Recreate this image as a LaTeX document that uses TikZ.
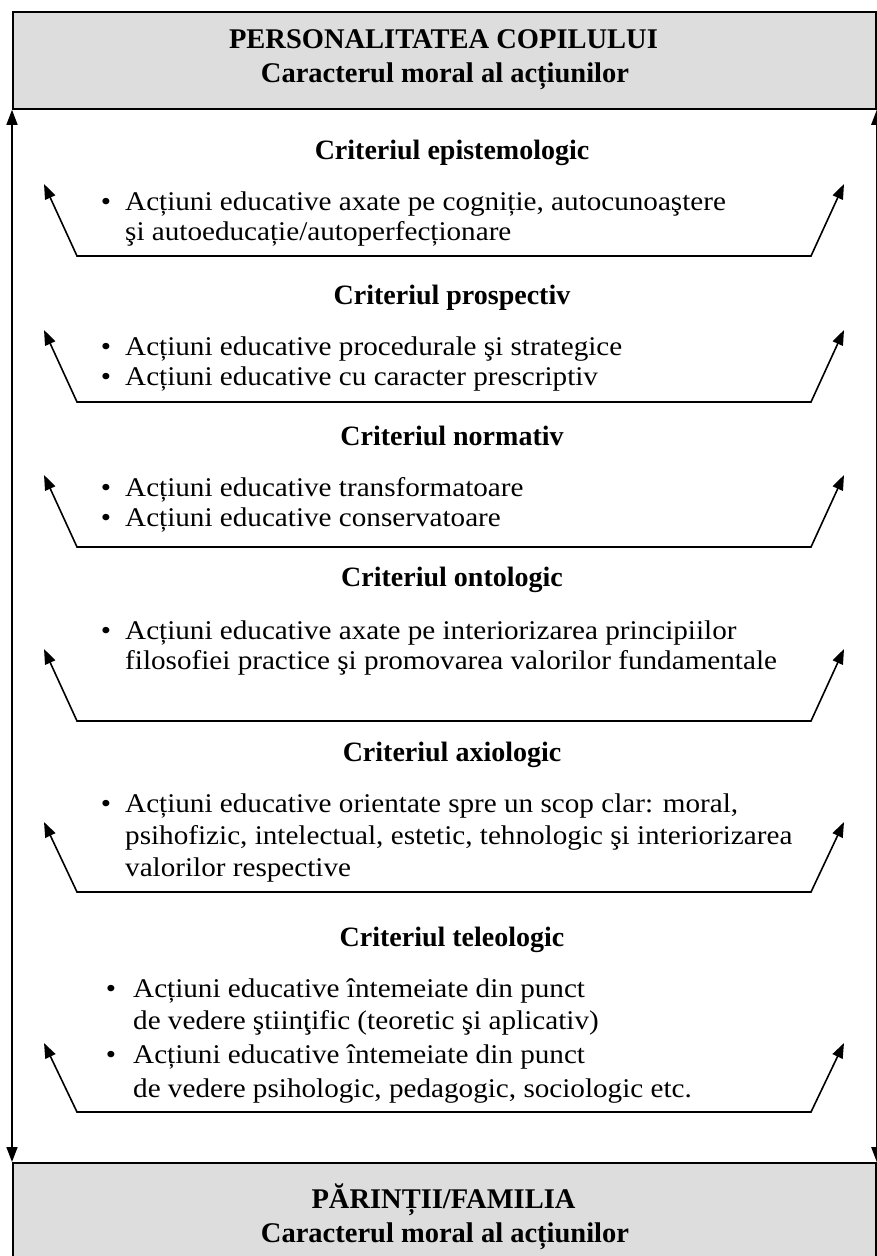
\documentclass[tikz,border=0pt]{standalone}
\usepackage{fontspec}
\setmainfont{Liberation Serif}
\newfontfamily\bodyfont[FakeStretch=1.08]{Liberation Serif}
\usetikzlibrary{arrows.meta}
\definecolor{boxgray}{RGB}{221,221,221}
\begin{document}
\begin{tikzpicture}[x=1pt,y=-1pt,
  frame/.style={draw=black, line width=1.8pt, fill=boxgray, inner sep=0pt, anchor=north west},
  link/.style={line width=1.6pt, {Triangle[length=15pt,width=11pt]}-{Triangle[length=15pt,width=11pt]}},
  title/.style={font=\fontsize{28.5}{34}\selectfont\bfseries, anchor=base, inner sep=0pt},
  head/.style={font=\fontsize{28}{34}\selectfont\bfseries, anchor=base, inner sep=0pt},
  item/.style={font=\bodyfont\fontsize{27}{31}\selectfont, anchor=base west, inner sep=0pt},
  dot/.style={font=\bodyfont\fontsize{27}{31}\selectfont, anchor=base, inner sep=0pt},
]
\useasboundingbox (0,0) rectangle (876,1256);

% the two boxes
\node[frame, minimum width=863pt, minimum height=97pt] (top) at (12,11) {};
\node[frame, minimum width=863pt, minimum height=115pt] (bot) at (12,1162) {};
\node[title] (topA) at (443.5,48) {PERSONALITATEA COPILULUI};
\node[title] (topB) at (445,82) {Caracterul moral al acțiunilor};
\node[title] (botA) at (443.5,1208) {PĂRINȚII/FAMILIA};
\node[title] (botB) at (445,1242) {Caracterul moral al acțiunilor};

% two-way links between the boxes
\draw[link] (top.south west) -- (bot.north west);
\draw[link] (top.south east) -- (bot.north east);

% the open brackets under each criterion
\foreach \n/\b/\t in {1/256/184, 2/402/330, 3/547/475, 4/721/649, 5/892/822, 6/1112/1043}{
  \coordinate (tipL\n) at (44,\t);
  \coordinate (cornL\n) at (77,\b);
  \coordinate (cornR\n) at (811,\b);
  \coordinate (tipR\n) at (844,\t);
  \draw[link] (tipL\n) -- (cornL\n) -- (cornR\n) -- (tipR\n);
}

% criterion 1
\node[head] (h1) at (452,159) {Criteriul epistemologic};
\node[dot] (d1a) at (106,210) {•};
\node[item] (t1a) at (125,210) {Acțiuni educative axate pe cogniție, autocunoaştere};
\node[item] (t1b) at (125,240) {şi autoeducație/autoperfecționare};

% criterion 2
\node[head] (h2) at (452,304) {Criteriul prospectiv};
\node[dot] (d2a) at (106,355) {•};
\node[item] (t2a) at (125,355) {Acțiuni educative procedurale şi strategice};
\node[dot] (d2b) at (106,385) {•};
\node[item] (t2b) at (125,385) {Acțiuni educative cu caracter prescriptiv};

% criterion 3
\node[head] (h3) at (452,445) {Criteriul normativ};
\node[dot] (d3a) at (106,496) {•};
\node[item] (t3a) at (125,496) {Acțiuni educative transformatoare};
\node[dot] (d3b) at (106,526) {•};
\node[item] (t3b) at (125,526) {Acțiuni educative conservatoare};

% criterion 4
\node[head] (h4) at (452,586) {Criteriul ontologic};
\node[dot] (d4a) at (106,639) {•};
\node[item] (t4a) at (125,639) {Acțiuni educative axate pe interiorizarea principiilor};
\node[item] (t4b) at (125,669) {filosofiei practice şi promovarea valorilor fundamentale};

% criterion 5
\node[head] (h5) at (452,761) {Criteriul axiologic};
\node[dot] (d5a) at (106,812) {•};
\node[item] (t5a) at (125,812) {Acțiuni educative orientate spre un scop clar: moral,};
\node[item] (t5b) at (125,844) {psihofizic, intelectual, estetic, tehnologic şi interiorizarea};
\node[item] (t5c) at (125,876) {valorilor respective};

% criterion 6
\node[head] (h6) at (452,946) {Criteriul teleologic};
\node[dot] (d6a) at (111,997) {•};
\node[item] (t6a) at (133,997) {Acțiuni educative întemeiate din punct};
\node[item] (t6b) at (133,1029) {de vedere ştiinţific (teoretic şi aplicativ)};
\node[dot] (d6b) at (111,1063) {•};
\node[item] (t6c) at (133,1063) {Acțiuni educative întemeiate din punct};
\node[item] (t6d) at (133,1097) {de vedere psihologic, pedagogic, sociologic etc.};
\end{tikzpicture}
\end{document}
